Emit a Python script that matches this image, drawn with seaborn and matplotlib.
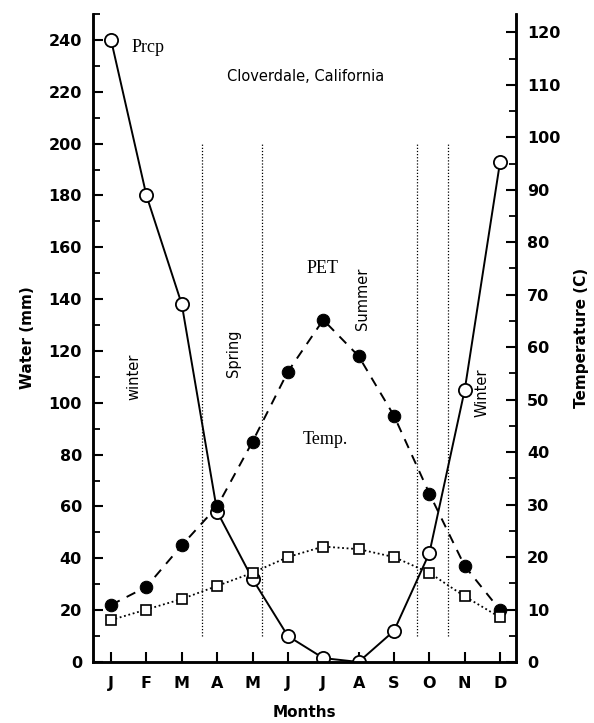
import matplotlib
matplotlib.use("Agg")
import matplotlib.pyplot as plt
import seaborn as sns
import pandas as pd
import numpy as np
from matplotlib.ticker import MultipleLocator

months = ["J", "F", "M", "A", "M", "J", "J", "A", "S", "O", "N", "D"]
prcp = [240, 180, 138, 58, 32, 10, 1.5, 0, 12, 42, 105, 193]
pet = [22, 29, 45, 60, 85, 112, 132, 118, 95, 65, 37, 20]
temp = [8, 10, 12, 14.5, 17, 20, 22, 21.5, 20, 17, 12.5, 8.5]
season_bounds = [2.57, 4.27, 8.65, 9.53]

sns.set_style("ticks")
plt.rcParams['font.family'] = ['DejaVu Sans']
plt.rcParams.update({"text.color": "black", "axes.labelcolor": "black",
                     "xtick.color": "black", "ytick.color": "black",
                     "axes.edgecolor": "black"})

fig = plt.figure(figsize=(5.94, 7.23), dpi=100)
ax = fig.add_axes([0.1566, 0.0844, 0.7121, 0.8962])
ax2 = ax.twinx()

x = np.arange(12)
df = pd.DataFrame({"x": x, "prcp": prcp, "pet": pet, "temp": temp})

sns.lineplot(data=df, x="x", y="prcp", ax=ax, color="black", lw=1.4,
             marker="o", markersize=9.5, markerfacecolor="white",
             markeredgecolor="black", markeredgewidth=1.3)
sns.lineplot(data=df, x="x", y="pet", ax=ax, color="black", lw=1.4,
             marker="o", markersize=9, markerfacecolor="black",
             markeredgecolor="black", dashes=False, linestyle=(0, (5, 4)))
sns.lineplot(data=df, x="x", y="temp", ax=ax2, color="black", lw=1.3,
             marker="s", markersize=7.5, markerfacecolor="white",
             markeredgecolor="black", markeredgewidth=1.2, linestyle=(0, (1, 1.5)))

for b in season_bounds:
    ax.plot([b, b], [10, 200], color="black", lw=0.9, linestyle=(0, (1, 1.5)))

ax.set_xlim(-0.51, 11.45)
ax.set_ylim(0, 250)
ax2.set_ylim(0, 123.5)

ax.set_xticks(x)
ax.set_xticklabels(months)
ax.set_yticks(np.arange(0, 241, 20))
ax.yaxis.set_minor_locator(MultipleLocator(10))
ax2.set_yticks(np.arange(0, 121, 10))
ax2.yaxis.set_minor_locator(MultipleLocator(5))

for lab in ax.get_xticklabels() + ax.get_yticklabels() + ax2.get_yticklabels():
    lab.set_fontsize(11.5)
    lab.set_fontweight("bold")
    lab.set_color("black")

ax.tick_params(axis="both", which="major", direction="in", length=7, width=1.5, pad=8, colors="black")
ax.tick_params(axis="y", which="minor", direction="in", length=5, width=1.3, colors="black")
ax.tick_params(axis="x", pad=10)
ax2.tick_params(axis="y", which="major", direction="in", length=7, width=1.5, pad=8, colors="black")
ax2.tick_params(axis="y", which="minor", direction="in", length=5, width=1.3, colors="black")

for a in (ax, ax2):
    for s in ["left", "right", "bottom"]:
        a.spines[s].set_linewidth(1.8)
        a.spines[s].set_color("black")
    a.spines["top"].set_visible(False)

ax.set_xlabel("Months", fontsize=11, fontweight="bold", labelpad=10, color="black")
ax.set_ylabel("Water (mm)", fontsize=11, fontweight="bold", labelpad=10, color="black")
ax2.set_ylabel("Temperature (C)", fontsize=11, fontweight="bold", labelpad=10, color="black")

serif = ["Liberation Serif", "DejaVu Serif"]
ax.text(1.05, 237, "Prcp", fontsize=13, family=serif, ha="center", va="center", color="black")
ax.text(5.5, 226, "Cloverdale, California", fontsize=10.5, ha="center", va="center", color="black")
ax.text(5.97, 152, "PET", fontsize=13, family=serif, ha="center", va="center", color="black")
ax.text(6.05, 86, "Temp.", fontsize=13, family=serif, ha="center", va="center", color="black")
ax.text(0.65, 110, "winter", fontsize=10.5, rotation=90, ha="center", va="center", color="black")
ax.text(3.45, 119, "Spring", fontsize=10.5, rotation=90, ha="center", va="center", color="black")
ax.text(7.1, 140, "Summer", fontsize=10.5, rotation=90, ha="center", va="center", color="black")
ax.text(10.5, 104, "Winter", fontsize=10.5, rotation=90, ha="center", va="center", color="black")

fig.savefig("out.png", dpi=100, facecolor="white")
